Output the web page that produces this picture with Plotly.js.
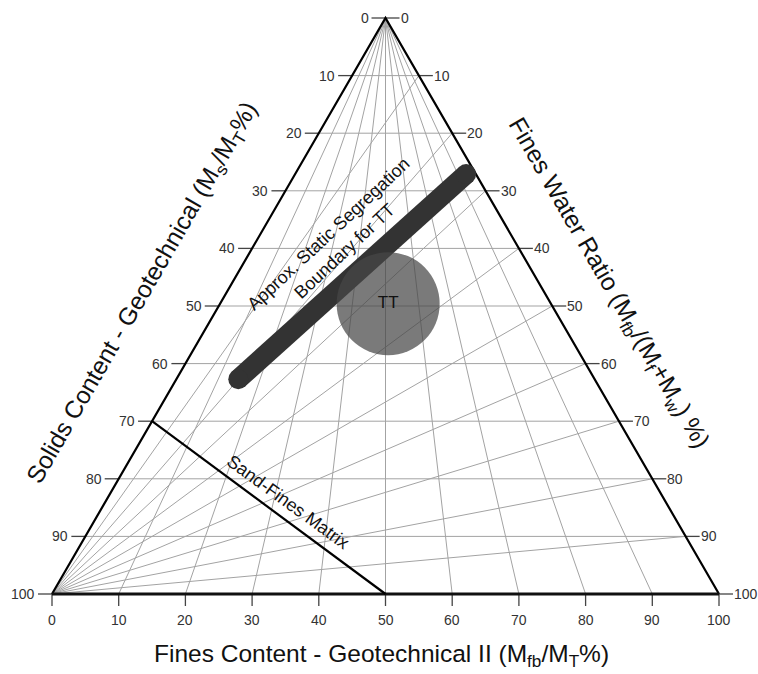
<!DOCTYPE html>
<html>
<head>
<meta charset="utf-8">
<script src="https://cdn.plot.ly/plotly-3.0.1.min.js"></script>
<style>html,body{margin:0;padding:0;background:#fff;}#chart{width:758px;height:674px;}</style>
</head>
<body>
<div id="chart"></div>
<script>
// ---- chart values (fines content %, solids content %) ----
const tickValues = [0, 10, 20, 30, 40, 50, 60, 70, 80, 90, 100];
const gridValues = [10, 20, 30, 40, 50, 60, 70, 80, 90];
const sandFinesF = [0, 50];
const sandFinesS = [70, 100];
const boundaryF = [14.8, 94.6];
const boundaryS = [62.7, 27.1];
const ttF = [50.8];
const ttS = [49.6];
const ttLabel = ['TT'];

// ---- projection of (fines content, solids content) onto the equilateral triangle plane ----
function px(f, s) { return 50 + (f - 50) * s / 100; }
function py(f, s) { return s; }

const W = 758, H = 674, L = 52, T = 18;
const kx = 667 / 100, ky = 576 / 100;
const FONT = 'Liberation Sans, Arial, sans-serif';

function seg(arr) { // arr of [[x1,y1],[x2,y2]] -> x,y with null gaps
  const x = [], y = [];
  arr.forEach(p => { x.push(p[0][0], p[1][0], null); y.push(p[0][1], p[1][1], null); });
  return {x, y};
}

const gridColor = '#a3a3a3';
const traces = [];

// solids-content lines (horizontal)
let g = seg(gridValues.map(s => [[px(0, s), py(0, s)], [px(100, s), py(100, s)]]));
traces.push({x: g.x, y: g.y, mode: 'lines', line: {color: gridColor, width: 1}, hoverinfo: 'skip'});
// fines-content lines (from top vertex)
g = seg(gridValues.map(f => [[px(f, 0), py(f, 0)], [px(f, 100), py(f, 100)]]));
traces.push({x: g.x, y: g.y, mode: 'lines', line: {color: gridColor, width: 1}, hoverinfo: 'skip'});
// fines-water-ratio lines (from bottom-left vertex to right edge)
g = seg(gridValues.map(r => [[px(0, 100), py(0, 100)], [px(100, r), py(100, r)]]));
traces.push({x: g.x, y: g.y, mode: 'lines', line: {color: gridColor, width: 1}, hoverinfo: 'skip'});

// tick dashes
const dl = 14 / kx, dv = 12 / ky;
const tk = [];
tickValues.forEach(s => {
  tk.push([[px(0, s), s], [px(0, s) - dl, s]]);
  tk.push([[px(100, s), s], [px(100, s) + dl, s]]);
});
tickValues.forEach(f => { tk.push([[px(f, 100), 100], [px(f, 100), 100 + dv]]); });
g = seg(tk);
traces.push({x: g.x, y: g.y, mode: 'lines', line: {color: '#444', width: 1.3}, hoverinfo: 'skip'});

// triangle edges
traces.push({x: [px(0, 100), px(0, 0), px(100, 100)], y: [100, 0, 100], mode: 'lines',
  line: {color: '#000', width: 2.2}, hoverinfo: 'skip'});
traces.push({x: [px(0, 100), px(100, 100)], y: [100, 100], mode: 'lines',
  line: {color: '#111', width: 3}, hoverinfo: 'skip'});

// sand-fines matrix line
traces.push({x: sandFinesF.map((f, i) => px(f, sandFinesS[i])), y: sandFinesS.map((s, i) => py(sandFinesF[i], s)),
  mode: 'lines', line: {color: '#000', width: 2.2}, hoverinfo: 'skip'});

// static segregation boundary (thick, round ends)
traces.push({x: boundaryF.map((f, i) => px(f, boundaryS[i])), y: boundaryS.map((s, i) => py(boundaryF[i], s)),
  mode: 'lines+markers', line: {color: '#333333', width: 20},
  marker: {color: '#333333', size: 20, line: {width: 0}}, hoverinfo: 'skip'});

// TT zone
traces.push({x: ttF.map((f, i) => px(f, ttS[i])), y: ttS.map((s, i) => py(ttF[i], s)),
  mode: 'markers+text', text: ttLabel, textposition: 'middle center',
  textfont: {family: FONT, size: 17, color: '#111'},
  marker: {color: 'rgba(70,70,70,0.72)', size: 103, line: {width: 0}}, hoverinfo: 'skip'});

// ---- annotations ----
const ann = [];
const tf = {family: FONT, size: 14, color: '#333'};
tickValues.forEach(s => {
  ann.push({x: px(0, s), y: s, text: String(s), showarrow: false, xanchor: 'right', yanchor: 'middle', xshift: -15, font: tf});
  ann.push({x: px(100, s), y: s, text: String(s), showarrow: false, xanchor: 'left', yanchor: 'middle', xshift: 13, font: tf});
});
tickValues.forEach(f => {
  ann.push({x: px(f, 100), y: 100, text: String(f), showarrow: false, xanchor: 'center', yanchor: 'middle', yshift: -26, font: tf});
});
const titleFont = {family: FONT, size: 24.5, color: '#111'};
ann.push({x: (143 - L) / kx, y: (293 - T) / ky, text: 'Solids Content - Geotechnical (M<sub>s</sub>/M<sub>T</sub>%)',
  showarrow: false, textangle: -60, xanchor: 'center', yanchor: 'middle', font: titleFont});
ann.push({x: (608 - L) / kx, y: (283 - T) / ky, text: 'Fines Water Ratio (M<sub>fb</sub>/(M<sub>f</sub>+M<sub>w</sub>) %)',
  showarrow: false, textangle: 60, xanchor: 'center', yanchor: 'middle', font: titleFont});
ann.push({x: (381 - L) / kx, y: (655 - T) / ky, text: 'Fines Content - Geotechnical II (M<sub>fb</sub>/M<sub>T</sub>%)',
  showarrow: false, xanchor: 'center', yanchor: 'middle', font: titleFont});
const lf = {family: FONT, size: 18, color: '#111'};
ann.push({x: (336 - L) / kx, y: (242 - T) / ky, text: 'Approx. Static Segregation<br>Boundary for TT',
  showarrow: false, textangle: -43, xanchor: 'center', yanchor: 'middle', font: lf});
ann.push({x: (288 - L) / kx, y: (502 - T) / ky, text: 'Sand-Fines Matrix',
  showarrow: false, textangle: 36, xanchor: 'center', yanchor: 'middle', font: lf});

const layout = {
  width: W, height: H,
  margin: {l: 0, r: 0, t: 0, b: 0},
  paper_bgcolor: '#fff', plot_bgcolor: '#fff',
  showlegend: false,
  xaxis: {range: [-L / kx, (W - L) / kx], visible: false, fixedrange: true},
  yaxis: {range: [(H - T) / ky, -T / ky], visible: false, fixedrange: true},
  annotations: ann,
  font: {family: FONT}
};
Plotly.newPlot('chart', traces, layout, {displayModeBar: false, staticPlot: true});
</script>
</body>
</html>
